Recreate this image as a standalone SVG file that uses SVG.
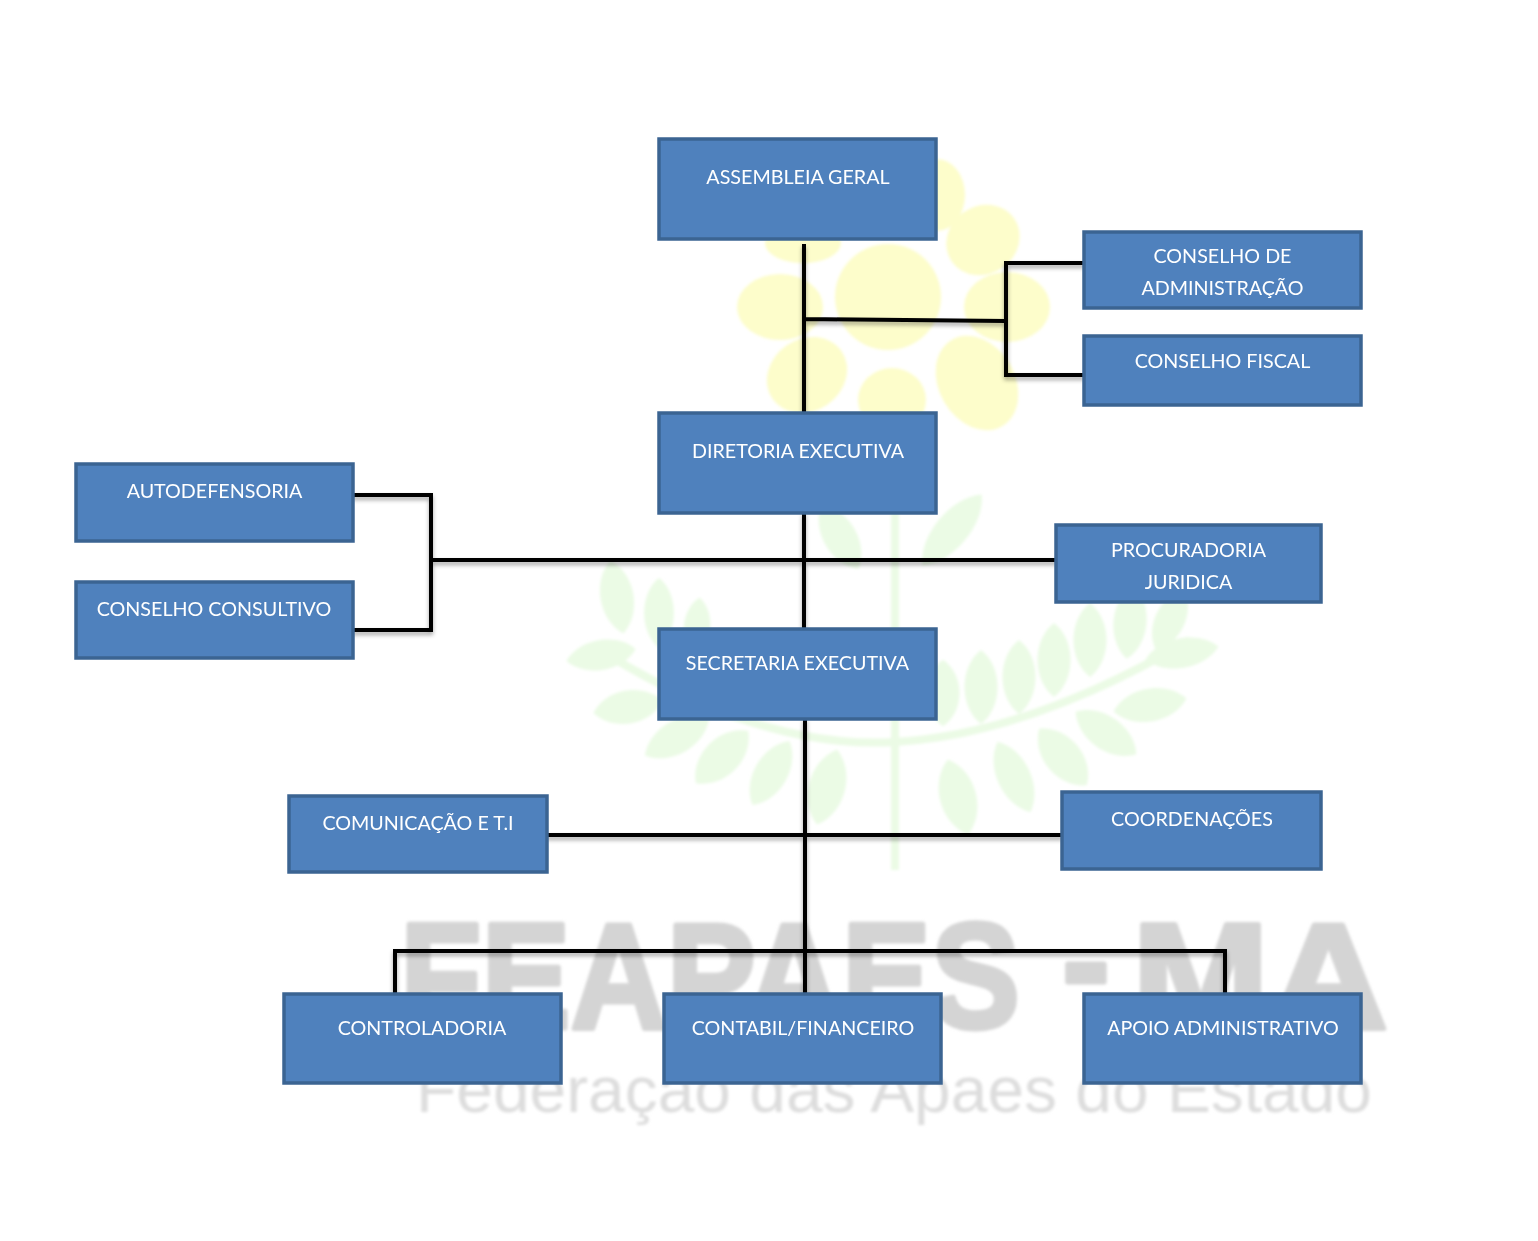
<svg xmlns="http://www.w3.org/2000/svg" width="1538" height="1241" viewBox="0 0 1538 1241">
<style>
.n{fill:#4f81bd;stroke:#3b6492;stroke-width:3.5}
.t{font-family:Lato,"Open Sans",sans-serif;font-size:19.700px;fill:#fff;text-anchor:middle}
.c{fill:none;stroke:#000;stroke-width:4;stroke-linecap:square}
.pet{fill:#fdfdcb}
.lf{fill:#ebfbe5}
.bg1{font-family:"Liberation Sans",sans-serif;font-weight:bold;font-size:150px;fill:#d4d4d4;stroke:#d4d4d4;stroke-width:5;stroke-linejoin:round}
.bg2{font-family:"Liberation Sans",sans-serif;font-size:64px;fill:#dddddd}
</style>
<defs>
<filter id="sh" x="-5%" y="-5%" width="110%" height="110%"><feDropShadow dx="0" dy="3" stdDeviation="2" flood-color="#000" flood-opacity="0.35"/></filter>
<filter id="soft" x="-5%" y="-5%" width="110%" height="110%"><feGaussianBlur stdDeviation="1.500"/></filter>
<path id="leaf" class="lf" d="M0-37C22-20 22 20 0 37C-22 20-22-20 0-37Z"/>
</defs>
<rect width="1538" height="1241" fill="#fff"/>
<g id="watermark">
<g filter="url(#soft)">
<circle class="pet" cx="888" cy="297" r="53"/>
<ellipse class="pet" cx="937" cy="195" rx="28" ry="36"/>
<ellipse class="pet" cx="983" cy="240" rx="38" ry="34" transform="rotate(-35 983 240)"/>
<ellipse class="pet" cx="1007" cy="307" rx="43" ry="35"/>
<ellipse class="pet" cx="977" cy="383" rx="38" ry="50" transform="rotate(-30 977 383)"/>
<ellipse class="pet" cx="892" cy="400" rx="34" ry="32"/>
<ellipse class="pet" cx="807" cy="375" rx="42" ry="36" transform="rotate(-35 807 375)"/>
<ellipse class="pet" cx="780" cy="307" rx="43" ry="33"/>
<ellipse class="pet" cx="803" cy="243" rx="38" ry="20"/>
<path d="M895 510V870M600 650Q760 750 895 742T1190 640" fill="none" stroke="#ebfbe5" stroke-width="8"/>
<use href="#leaf" transform="translate(840 537) rotate(-30)"/>
<use href="#leaf" transform="translate(952 530) rotate(40) scale(1 1.250)"/>
<use href="#leaf" transform="translate(617 597) rotate(-10)"/>
<use href="#leaf" transform="translate(659 613) scale(.9 .95)"/>
<use href="#leaf" transform="translate(697 627) rotate(5) scale(.8 .8)"/>
<use href="#leaf" transform="translate(601 655) rotate(80) scale(.9 .95)"/>
<use href="#leaf" transform="translate(628 707) rotate(80) scale(1 .95)"/>
<use href="#leaf" transform="translate(677 737) rotate(60)"/>
<use href="#leaf" transform="translate(722 757) rotate(45) scale(1.1 1)"/>
<use href="#leaf" transform="translate(771 773) rotate(30)"/>
<use href="#leaf" transform="translate(827 787) rotate(15) scale(1.1 1.050)"/>
<use href="#leaf" transform="translate(1130 622) rotate(5)"/>
<use href="#leaf" transform="translate(1170 620) rotate(25) scale(.9 .9)"/>
<use href="#leaf" transform="translate(1090 640)"/>
<use href="#leaf" transform="translate(1054 660)"/>
<use href="#leaf" transform="translate(1019 677)"/>
<use href="#leaf" transform="translate(981 687)"/>
<use href="#leaf" transform="translate(943 693) scale(1 .9)"/>
<use href="#leaf" transform="translate(1182 653) rotate(80) scale(.9 1)"/>
<use href="#leaf" transform="translate(1150 705) rotate(80)"/>
<use href="#leaf" transform="translate(1106 733) rotate(-55)"/>
<use href="#leaf" transform="translate(1063 757) rotate(-40) scale(1.1 1)"/>
<use href="#leaf" transform="translate(1014 777) rotate(-25) scale(1 1.050)"/>
<use href="#leaf" transform="translate(958 797) rotate(-15) scale(1.1 1.050)"/>
<text class="bg1" x="400" y="1028" textLength="620" lengthAdjust="spacingAndGlyphs">FEAPAES</text>
<text class="bg1" x="1062" y="1012" textLength="48" lengthAdjust="spacingAndGlyphs">-</text>
<text class="bg1" x="1132" y="1028" textLength="256" lengthAdjust="spacingAndGlyphs">MA</text>
<text class="bg2" x="416" y="1112" textLength="956" lengthAdjust="spacingAndGlyphs">Federação das Apaes do Estado</text>
</g>
</g>
<g id="connectors" filter="url(#sh)">
<path class="c" d="M804 246V412M805 319L1006 321M1083 263H1006V375H1083"/>
<path class="c" d="M804 514V628M433 560H1055M354 495H431V630H354"/>
<path class="c" d="M805 720V993M548 835H1061M395 993V951H1225V993"/>
</g>
<g id="assembleia"><rect class="n" x="659" y="139" width="277" height="100"/><text class="t" x="798" y="184">ASSEMBLEIA GERAL</text></g>
<g id="conselho-admin"><rect class="n" x="1084" y="232" width="277" height="76"/><text class="t" x="1222.500" y="263">CONSELHO DE</text><text class="t" x="1222.500" y="295">ADMINISTRAÇÃO</text></g>
<g id="conselho-fiscal"><rect class="n" x="1084" y="336" width="277" height="69"/><text class="t" x="1222.500" y="368">CONSELHO FISCAL</text></g>
<g id="diretoria"><rect class="n" x="659" y="413" width="277" height="100"/><text class="t" x="798" y="458">DIRETORIA EXECUTIVA</text></g>
<g id="autodefensoria"><rect class="n" x="76" y="464" width="277" height="77"/><text class="t" x="214.500" y="498">AUTODEFENSORIA</text></g>
<g id="conselho-consultivo"><rect class="n" x="76" y="582" width="277" height="76"/><text class="t" x="214" y="616">CONSELHO CONSULTIVO</text></g>
<g id="procuradoria"><rect class="n" x="1056" y="525" width="265" height="77"/><text class="t" x="1188.500" y="557">PROCURADORIA</text><text class="t" x="1188.500" y="589">JURIDICA</text></g>
<g id="secretaria"><rect class="n" x="659" y="629" width="277" height="90"/><text class="t" x="797.500" y="670">SECRETARIA EXECUTIVA</text></g>
<g id="comunicacao"><rect class="n" x="289" y="796" width="258" height="76"/><text class="t" x="418" y="830">COMUNICAÇÃO E T.I</text></g>
<g id="coordenacoes"><rect class="n" x="1062" y="792" width="259" height="77"/><text class="t" x="1192" y="826">COORDENAÇÕES</text></g>
<g id="controladoria"><rect class="n" x="284" y="994" width="277" height="89"/><text class="t" x="422" y="1035">CONTROLADORIA</text></g>
<g id="contabil"><rect class="n" x="664" y="994" width="277" height="89"/><text class="t" x="803" y="1035">CONTABIL/FINANCEIRO</text></g>
<g id="apoio"><rect class="n" x="1084" y="994" width="277" height="89"/><text class="t" x="1223" y="1035">APOIO ADMINISTRATIVO</text></g>
</svg>
